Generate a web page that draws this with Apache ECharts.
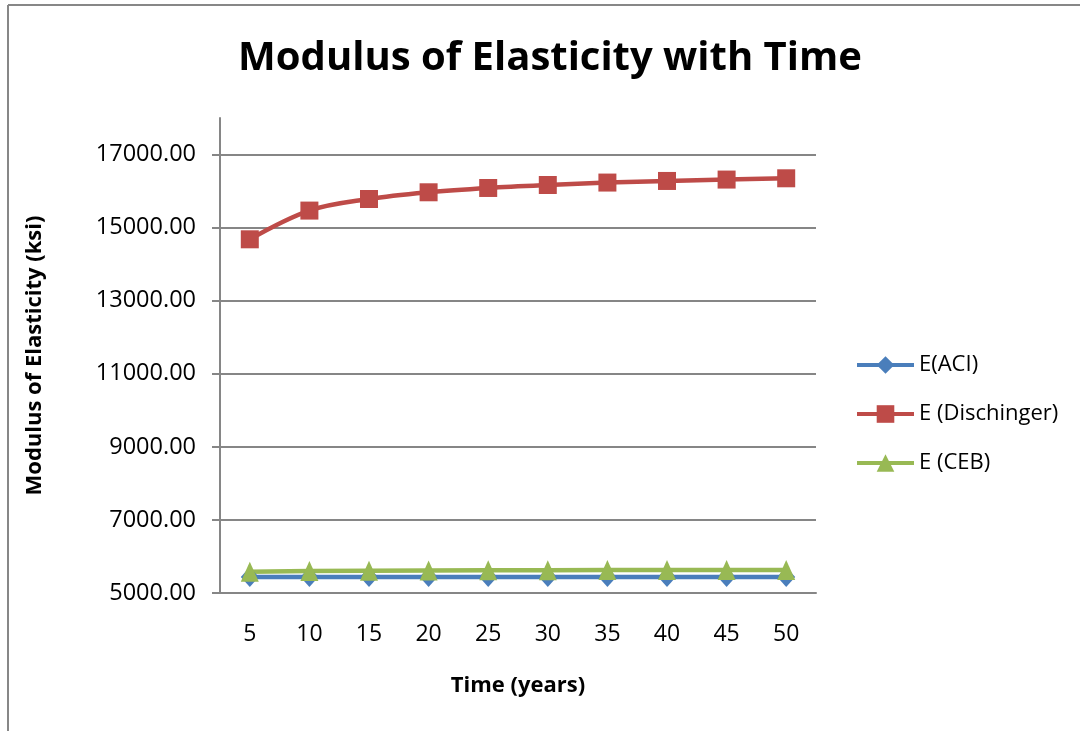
<!DOCTYPE html>
<html>
<head>
<meta charset="utf-8">
<script src="https://cdn.jsdelivr.net/npm/echarts@6/dist/echarts.min.js"></script>
<style>
  html, body { margin: 0; padding: 0; background: #fff; }
  #chart { width: 1080px; height: 731px; }
</style>
</head>
<body>
<div id="chart"></div>
<script>
const years = ['5', '10', '15', '20', '25', '30', '35', '40', '45', '50'];
const eACI = [5440, 5440, 5440, 5440, 5440, 5440, 5440, 5440, 5440, 5440];
const eDischinger = [14680, 15466, 15783, 15967, 16085, 16167, 16233, 16277, 16315, 16350];
const eCEB = [5580, 5605, 5612, 5618, 5622, 5625, 5627, 5628, 5629, 5630];
const yTicks = [5000, 7000, 9000, 11000, 13000, 15000, 17000];

const FONT = '"Open Sans", "Liberation Sans", sans-serif';
const chart = echarts.init(document.getElementById('chart'), null, { renderer: 'canvas' });

chart.setOption({
  animation: false,
  backgroundColor: '#ffffff',
  title: {
    text: 'Modulus of Elasticity with Time',
    left: 545,
    textAlign: 'center',
    top: 34,
    textStyle: { fontFamily: FONT, fontWeight: 'bold', fontSize: 40, color: '#000' }
  },
  graphic: [
    { type: 'line', shape: { x1: 8, y1: 5, x2: 8, y2: 731 }, style: { stroke: '#878787', lineWidth: 2 } },
    { type: 'line', shape: { x1: 8, y1: 5, x2: 1080, y2: 5 }, style: { stroke: '#878787', lineWidth: 2 } }
  ],
  legend: {
    orient: 'vertical',
    left: 850,
    top: 349,
    itemWidth: 57,
    itemHeight: 22,
    itemGap: 27,
    lineStyle: { width: 4 },
    textStyle: { fontFamily: FONT, fontSize: 22, color: '#000' },
    data: ['E(ACI)', 'E (Dischinger)', 'E (CEB)']
  },
  grid: { left: 220, right: 264, top: 118, bottom: 138 },
  xAxis: {
    type: 'category',
    data: years,
    boundaryGap: true,
    name: 'Time (years)',
    nameLocation: 'middle',
    nameGap: 82,
    nameTextStyle: { fontFamily: FONT, fontWeight: 'bold', fontSize: 22, color: '#000' },
    axisLine: { lineStyle: { color: '#868686', width: 2 } },
    axisTick: { show: false },
    axisLabel: { fontFamily: FONT, fontSize: 23, color: '#000', margin: 30 },
    splitLine: { show: false }
  },
  yAxis: {
    type: 'value',
    min: 5000,
    max: 18000,
    name: 'Modulus of Elasticity (ksi)',
    nameLocation: 'middle',
    nameGap: 174,
    nameTextStyle: { fontFamily: FONT, fontWeight: 'bold', fontSize: 22, color: '#000' },
    axisLine: { show: true, lineStyle: { color: '#868686', width: 2 } },
    axisTick: { show: true, inside: false, length: 8, customValues: yTicks, lineStyle: { color: '#868686', width: 2 } },
    axisLabel: {
      fontFamily: FONT, fontSize: 23.5, color: '#000', margin: 24,
      customValues: yTicks,
      formatter: v => v.toFixed(2)
    },
    splitLine: { show: true, lineStyle: { color: '#868686', width: 2 } }
  },
  series: [
    {
      name: 'E(ACI)',
      type: 'line',
      data: eACI,
      symbol: 'diamond',
      symbolSize: [18, 20],
      color: '#4a7ebb',
      lineStyle: { width: 4.5, color: '#4a7ebb' },
      itemStyle: { color: '#4a7ebb' }
    },
    {
      name: 'E (Dischinger)',
      type: 'line',
      data: eDischinger,
      symbol: 'rect',
      symbolSize: 18,
      smooth: 0.35,
      color: '#be4b48',
      lineStyle: { width: 4.5, color: '#be4b48' },
      itemStyle: { color: '#be4b48' }
    },
    {
      name: 'E (CEB)',
      type: 'line',
      data: eCEB,
      symbol: 'triangle',
      symbolSize: [18, 20],
      color: '#98b954',
      lineStyle: { width: 4.5, color: '#98b954' },
      itemStyle: { color: '#98b954' }
    }
  ]
});
</script>
</body>
</html>
